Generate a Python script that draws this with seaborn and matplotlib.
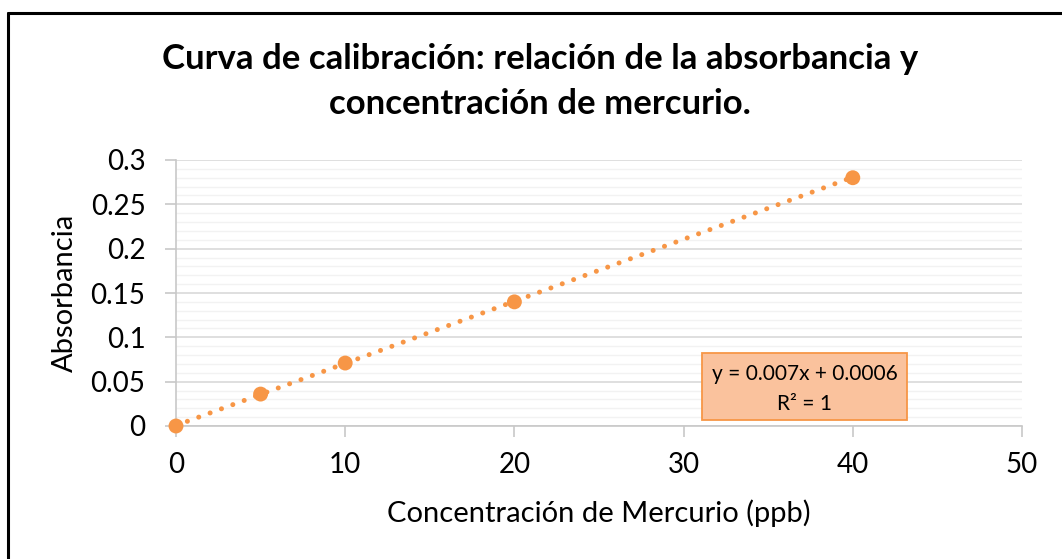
import matplotlib
matplotlib.use("Agg")
import matplotlib.pyplot as plt
import seaborn as sns
import numpy as np
import pandas as pd
from matplotlib.patches import Rectangle
from matplotlib.lines import Line2D

conc = [0, 5, 10, 20, 40]
absorb = [0.0, 0.036, 0.071, 0.14, 0.28]
slope = 0.007
intercept = 0.0006
title_lines = ["Curva de calibración: relación de la absorbancia y",
               "concentración de mercurio."]
xlabel = "Concentración de Mercurio (ppb)"
ylabel = "Absorbancia"
eq_lines = ["y = 0.007x + 0.0006", "R² = 1"]
x_ticks = [0, 10, 20, 30, 40, 50]
y_ticks = [0, 0.05, 0.1, 0.15, 0.2, 0.25, 0.3]
y_ticklabels = ["0", "0.05", "0.1", "0.15", "0.2", "0.25", "0.3"]

sns.set_theme(style="white")
plt.rcParams['font.family'] = ['Lato', 'DejaVu Sans']

orange = "#F79646"
df = pd.DataFrame({"x": conc, "y": absorb})

W, H = 1062, 559
fig = plt.figure(figsize=(W / 100, H / 100), dpi=100)
L, R, T, B = 176, 1022, 160, 426
ax = fig.add_axes([L / W, 1 - B / H, (R - L) / W, (B - T) / H])

# trendline (linear fit shown by Excel)
tx = np.array([min(conc), max(conc)])
ty = slope * tx + intercept
sns.lineplot(x=tx, y=ty, ax=ax, color=orange, lw=3.6, linestyle=(0, (0.01, 2.41)), zorder=2)
ax.lines[-1].set_dash_capstyle("round")
ax.lines[-1].set_clip_on(False)
sns.scatterplot(data=df, x="x", y="y", ax=ax, color=orange, s=115, edgecolor="none",
                zorder=3, clip_on=False)

ax.set_xlim(0, 50)
ax.set_ylim(0, 0.3)
ax.set_xticks(x_ticks)
ax.set_yticks(y_ticks)
ax.set_yticklabels(y_ticklabels)
ax.set_yticks(np.arange(0, 0.3001, 0.01), minor=True)
ax.grid(axis="y", which="major", color="#D9D9D9", lw=1.2, zorder=0)
ax.grid(axis="y", which="minor", color="#F2F2F2", lw=1.0, zorder=0)
ax.set_axisbelow(True)
for s in ["top", "right"]:
    ax.spines[s].set_visible(False)
for s in ["left", "bottom"]:
    ax.spines[s].set_color("#C8C8C8")
    ax.spines[s].set_linewidth(1.2)
ax.tick_params(axis="both", which="major", direction="out", length=8, width=1.2,
               color="#C8C8C8", labelsize=20, labelcolor="#000000", left=True, bottom=True)
ax.tick_params(axis="y", which="minor", length=0)
ax.tick_params(axis="x", pad=11)
ax.tick_params(axis="y", pad=14)
ax.set_xlabel(xlabel, fontsize=21, color="black")
ax.set_ylabel(ylabel, fontsize=21, color="black")
ax.xaxis.set_label_coords((599 - L) / (R - L), (B - 499) / (B - T))
ax.yaxis.set_label_coords((78 - L) / (R - L), 0.5)

for line, yb in zip(title_lines, [69, 114]):
    fig.text(540 / W, 1 - yb / H, line, ha="center", va="baseline", fontsize=25,
             fontweight="bold", color="black")

# equation box
bx0, bx1, by0, by1 = 702, 907, 353, 420
ax.add_patch(Rectangle(((bx0 - L) / (R - L), (B - by1) / (B - T)),
                       (bx1 - bx0) / (R - L), (by1 - by0) / (B - T),
                       transform=ax.transAxes, facecolor="#FAC29D", edgecolor=orange,
                       lw=1.3, zorder=4, clip_on=False))
for line, yb in zip(eq_lines, [380, 410]):
    ax.text(((bx0 + bx1) / 2 - L) / (R - L), (B - yb) / (B - T), line,
            transform=ax.transAxes, ha="center", va="baseline", fontsize=15,
            color="black", zorder=5)

# outer chart border (cropped at right and bottom)
fig.add_artist(Line2D([8 / W, 1.0], [1 - 12.5 / H, 1 - 12.5 / H], transform=fig.transFigure,
                      color="black", lw=2.2))
fig.add_artist(Line2D([8 / W, 8 / W], [1 - 12.5 / H, 0.0], transform=fig.transFigure,
                      color="black", lw=2.2))

fig.savefig("out.png", dpi=100, facecolor="white")
